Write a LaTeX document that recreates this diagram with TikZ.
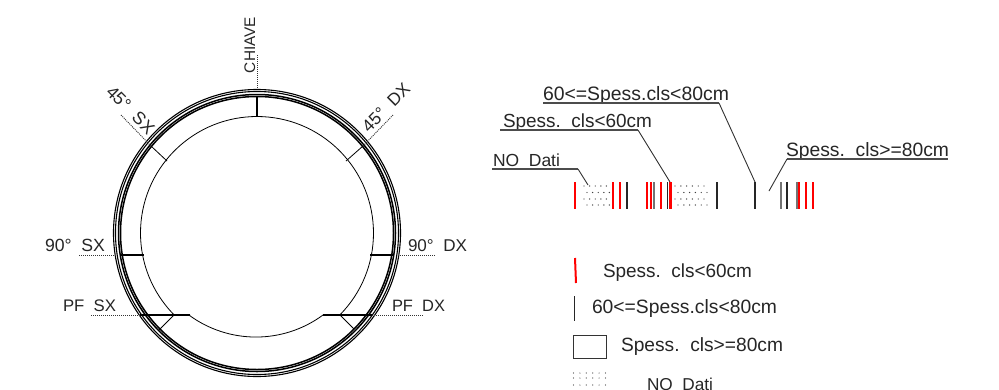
\documentclass[tikz,border=0pt]{standalone}
\usepackage{graphicx}
\usepackage{fontspec}
\setmainfont{Liberation Sans}
\newcommand\fitw[2]{\resizebox{#1pt}{!}{#2}}
\tikzset{
  lbl/.style={inner sep=0pt,outer sep=0pt,anchor=base west,text=black!85,font=\fontsize{16}{16}\selectfont},
  ring/.style={draw=black,line width=1.1pt},
  ringheavy/.style={draw=black,line width=1.5pt},
  thinl/.style={draw=black,line width=0.8pt},
  solidl/.style={draw=black,line width=1.1pt},
  dots/.style={draw=black!80,line width=0.9pt,dash pattern=on 1pt off 1pt},
  leader/.style={draw=black!80,line width=0.9pt},
  under/.style={draw=black!70,line width=1.3pt},
  redbar/.style={draw=red,line width=2.8pt},
  blackbar/.style={draw=black!85,line width=1.1pt},
  graybar/.style={draw=black!55,line width=1.5pt},
  dot/.style={fill=black!75,draw=none}
}
\begin{document}
\begin{tikzpicture}[x=1pt,y=-1pt]
\useasboundingbox[fill=white] (0,0) rectangle (999,389);
\coordinate (c) at (257,233);
% rings
\foreach \r in {143.5,141.5}{\draw[ring] (c) circle[radius=\r pt];}
\foreach \r in {138.5,136.5}{\draw[ringheavy] (c) circle[radius=\r pt];}
% intrados
\draw[thinl] (190,315) -- (174.25,315) arc[start angle=224.74,end angle=-44.74,radius=116.5pt] -- (323,315)
  arc[start angle=306.4,end angle=233.6,radius=113pt];
% crown
\draw[solidl] (257,117) -- (257,97);
\draw[dots] (257,55) -- (257,89);
% 45
\draw[thinl] (151,146) -- (167,161);
\draw[thinl] (363,146) -- (346,161);
\draw[dots] (121,115) -- (151,146);
\draw[dots] (393,115) -- (363,146);
% 90
\draw[solidl] (120,255) -- (144,255);
\draw[solidl] (370,255) -- (393,255);
\draw[dots] (79,255) -- (116,255);
\draw[dots] (398,255) -- (435,255);
% PF
\draw[solidl] (140,315) -- (190,315);
\draw[solidl] (323,315) -- (372,315);
\draw[dots] (91,315) -- (140,315);
\draw[dots] (372,315) -- (423,315);
\draw[thinl] (174,315) -- (159,330);
\draw[thinl] (340,315) -- (354,329);
% ring labels
\node[lbl,rotate=90] (chiave) at (255,73) {\fitw{56}{CHIAVE}};
\node[lbl] (n90sx) at (45,251) {\fitw{60}{90°\ \ SX}};
\node[lbl] (npfsx) at (63,311) {\fitw{53}{PF\ \ SX}};
\node[lbl] (n90dx) at (408,251) {\fitw{59}{90°\ \ DX}};
\node[lbl] (npfdx) at (392,311) {\fitw{53}{PF\ \ DX}};
\node[lbl,rotate=-45] (n45sx) at (105,93) {\fitw{60}{45°\ \ SX}};
\node[lbl,rotate=45] (n45dx) at (369,133) {\fitw{60}{45°\ \ DX}};
% leaders with labels
\node[lbl] (t6080) at (543,100) {\fitw{186}{60<=Spess.cls<80cm}};
\node[lbl] (t60) at (503,127) {\fitw{149}{Spess.\ \ cls<60cm}};
\node[lbl] (tno) at (493,166) {\fitw{67}{NO\ \ Dati}};
\node[lbl] (t80) at (786,156) {\fitw{163}{Spess.\ \ cls>=80cm}};
\draw[under] (543,103) -- (719,103);
\draw[leader] (719,103) -- (755,182);
\draw[under] (500,130) -- (638,130);
\draw[leader] (638,130) -- (670,182);
\draw[under] (492,169) -- (578,169);
\draw[leader] (578,169) -- (588,185);
\draw[under] (787,159) -- (948,159);
\draw[leader] (787,159) -- (769,191);
% bars
\foreach \x in {575,613,620,647,651,661,670.5,799,806,813}{\draw[redbar] (\x,182) -- (\x,209);}
\foreach \x in {627,667.5,717,755,787}{\draw[blackbar] (\x,182) -- (\x,209);}
\foreach \x in {654,781,797}{\draw[graybar] (\x,182) -- (\x,209);}
% dotted strips
\foreach \y/\o in {186/0,192.5/3,199/0,205/3}{
  \foreach \x in {0,...,4}{\fill[dot] (584+\x*5.6+\o,\y) circle[radius=0.7pt];}
  \foreach \x in {0,...,5}{\fill[dot] (675+\x*5.8+\o,\y) circle[radius=0.7pt];}
}
% legend
\draw[draw=red,line width=2pt] (575,258) -- (576,283);
\draw[blackbar] (574.5,296) -- (574.5,321);
\draw[draw=black!80,line width=1pt] (573,335) rectangle (606,358);
\foreach \x in {0,...,5}{
  \foreach \y in {373,378,385}{\fill[dot] (573.5+\x*6.4,\y) circle[radius=0.6pt];}
}
\node[lbl] (l60) at (603,277) {\fitw{149}{Spess.\ \ cls<60cm}};
\node[lbl] (l6080) at (592,313) {\fitw{185}{60<=Spess.cls<80cm}};
\node[lbl] (l80) at (621,351) {\fitw{162}{Spess.\ \ cls>=80cm}};
\node[lbl] (lno) at (647,390) {\fitw{66}{NO\ \ Dati}};
\end{tikzpicture}
\end{document}
